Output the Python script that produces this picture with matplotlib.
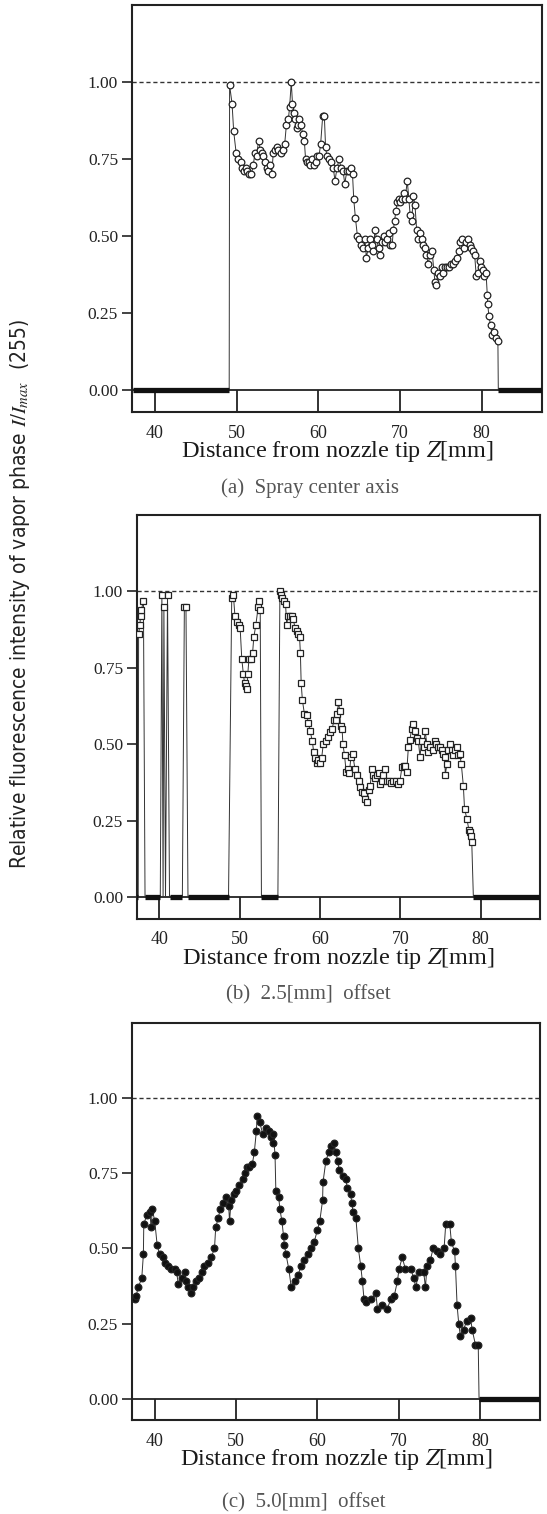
import matplotlib
matplotlib.use('Agg')
import matplotlib.pyplot as plt
import numpy as np

plt.rcParams['font.family'] = ['Liberation Serif', 'DejaVu Serif']
plt.rcParams['mathtext.fontset'] = 'stix'

# ---- data (Z in mm, relative intensity) ----
# (a) spray center axis
A_Z = [37.3, 49.10, 49.15, 49.45, 49.65, 49.95, 50.20, 50.50, 50.70, 50.90, 51.10, 51.30, 51.55,
       51.80, 52.05, 52.25, 52.45, 52.70, 52.90, 53.10, 53.30, 53.50, 53.70, 53.85, 54.05,
       54.30, 54.50, 54.70, 54.90, 55.10, 55.40, 55.65, 55.90, 56.10, 56.35, 56.50, 56.70,
       56.85, 57.00, 57.20, 57.40, 57.55, 57.70, 57.90, 58.10, 58.30, 58.45, 58.65, 58.85,
       59.05, 59.30, 59.50, 59.70, 59.90, 60.10, 60.30, 60.55, 60.75, 60.90, 61.05, 61.30,
       61.60, 61.85, 62.05, 62.30, 62.55, 62.80, 63.05, 63.25, 63.50, 63.75, 64.00, 64.20,
       64.35, 64.55, 64.80, 65.00, 65.20, 65.45, 65.70, 65.90, 66.10, 66.30, 66.55, 66.75,
       66.95, 67.15, 67.40, 67.60, 67.80, 68.00, 68.20, 68.45, 68.65, 68.85, 69.05, 69.20,
       69.35, 69.50, 69.65, 69.85, 70.05, 70.25, 70.45, 70.65, 70.90, 71.10, 71.25, 71.45,
       71.65, 71.85, 72.05, 72.25, 72.45, 72.65, 72.85, 73.05, 73.25, 73.45, 73.70, 73.95,
       74.15, 74.30, 74.45, 74.65, 74.90, 75.10, 75.30, 75.55, 75.80, 76.05, 76.30, 76.55,
       76.80, 77.05, 77.25, 77.40, 77.60, 77.85, 78.05, 78.30, 78.55, 78.75, 78.95, 79.15,
       79.35, 79.55, 79.75, 79.95, 80.15, 80.35, 80.55, 80.70, 80.75, 80.90, 81.10, 81.30,
       81.55, 81.80, 82.00, 82.05, 87.5]
A_V = [0.0, 0.0, 0.99, 0.93, 0.84, 0.77, 0.75, 0.74, 0.72, 0.71, 0.72, 0.71, 0.70,
       0.70, 0.73, 0.77, 0.76, 0.81, 0.78, 0.77, 0.76, 0.74, 0.72, 0.71, 0.73,
       0.70, 0.77, 0.78, 0.79, 0.78, 0.77, 0.78, 0.80, 0.86, 0.88, 0.92, 1.00,
       0.93, 0.90, 0.88, 0.85, 0.86, 0.88, 0.86, 0.83, 0.81, 0.75, 0.74, 0.74,
       0.73, 0.75, 0.73, 0.74, 0.76, 0.76, 0.80, 0.89, 0.89, 0.79, 0.76, 0.75,
       0.74, 0.72, 0.68, 0.72, 0.75, 0.72, 0.71, 0.67, 0.71, 0.71, 0.72, 0.70,
       0.62, 0.56, 0.50, 0.49, 0.47, 0.46, 0.49, 0.43, 0.46, 0.49, 0.47, 0.45,
       0.52, 0.49, 0.46, 0.44, 0.48, 0.50, 0.48, 0.49, 0.51, 0.47, 0.47, 0.52,
       0.55, 0.58, 0.61, 0.62, 0.61, 0.62, 0.64, 0.62, 0.68, 0.62, 0.57, 0.55,
       0.63, 0.60, 0.52, 0.49, 0.51, 0.49, 0.47, 0.46, 0.44, 0.41, 0.44, 0.45,
       0.39, 0.35, 0.34, 0.38, 0.37, 0.40, 0.38, 0.40, 0.40, 0.40, 0.41, 0.41,
       0.42, 0.43, 0.45, 0.48, 0.49, 0.46, 0.48, 0.49, 0.47, 0.46, 0.45, 0.44,
       0.37, 0.38, 0.42, 0.40, 0.39, 0.37, 0.38, 0.31, 0.28, 0.24, 0.21, 0.18,
       0.19, 0.17, 0.16, 0.0, 0.0]

# (b) 2.5 mm offset
B_Z = [37.05, 37.35, 37.40, 37.55, 37.65, 37.75, 38.00, 38.20,
       40.10, 40.30, 40.45, 40.55, 40.75, 41.00, 41.25,
       42.85, 43.10, 43.30, 43.55,
       48.60, 49.00, 49.20, 49.40, 49.60, 49.85, 50.05, 50.25, 50.45, 50.60, 50.75, 50.90,
       51.00, 51.15, 51.40, 51.60, 51.75, 52.00, 52.30, 52.45, 52.55, 52.70,
       54.75, 55.00, 55.15, 55.30, 55.50, 55.70, 55.85, 56.00, 56.20, 56.45, 56.65, 56.90,
       57.10, 57.30, 57.45, 57.55, 57.65, 57.80, 58.05, 58.35, 58.55, 58.75, 59.05, 59.20,
       59.40, 59.60, 59.80, 60.05, 60.20, 60.40, 60.75, 61.05, 61.30, 61.50, 61.75, 61.95,
       62.15, 62.30, 62.45, 62.55, 62.75, 62.85, 63.05, 63.25, 63.45, 63.65, 63.85, 64.05,
       64.35, 64.55, 64.80, 65.00, 65.20, 65.45, 65.65, 65.85, 66.05, 66.25, 66.45, 66.65,
       66.85, 67.05, 67.30, 67.50, 67.70, 67.90, 68.10, 68.30, 68.55, 68.90, 69.15, 69.45,
       69.75, 69.95, 70.20, 70.40, 70.60, 70.80, 71.00, 71.20, 71.40, 71.60, 71.85, 72.05,
       72.25, 72.45, 72.65, 72.90, 73.10, 73.30, 73.50, 73.75, 74.10, 74.30, 74.50, 74.70,
       74.95, 75.15, 75.35, 75.55, 75.60, 75.80, 76.00, 76.20, 76.40, 76.60, 76.80, 77.00,
       77.20, 77.40, 77.60, 77.85, 78.00, 78.30, 78.55, 78.70, 78.80, 78.90, 79.10, 87.5]
B_V = [0.0, 0.0, 0.86, 0.89, 0.92, 0.94, 0.97, 0.0,
       0.0, 0.99, 0.0, 0.95, 0.0, 0.99, 0.0,
       0.0, 0.95, 0.95, 0.0,
       0.0, 0.98, 0.99, 0.92, 0.90, 0.89, 0.88, 0.78, 0.73, 0.70, 0.69, 0.68,
       0.73, 0.78, 0.78, 0.80, 0.85, 0.89, 0.95, 0.97, 0.94, 0.0,
       0.0, 1.00, 0.99, 0.98, 0.97, 0.96, 0.89, 0.92, 0.92, 0.92, 0.91, 0.88,
       0.87, 0.86, 0.85, 0.80, 0.70, 0.645, 0.60, 0.595, 0.57, 0.545, 0.51, 0.475,
       0.455, 0.44, 0.45, 0.44, 0.455, 0.50, 0.51, 0.525, 0.54, 0.55, 0.58, 0.58,
       0.60, 0.64, 0.61, 0.56, 0.55, 0.50, 0.465, 0.41, 0.42, 0.405, 0.46, 0.47,
       0.42, 0.40, 0.38, 0.36, 0.345, 0.34, 0.32, 0.31, 0.35, 0.365, 0.42, 0.40,
       0.39, 0.40, 0.405, 0.37, 0.38, 0.40, 0.42, 0.38, 0.38, 0.375, 0.38, 0.38,
       0.37, 0.38, 0.425, 0.43, 0.43, 0.41, 0.49, 0.515, 0.55, 0.565, 0.545, 0.52,
       0.51, 0.46, 0.51, 0.49, 0.545, 0.50, 0.475, 0.49, 0.48, 0.51, 0.50, 0.49,
       0.49, 0.48, 0.47, 0.46, 0.40, 0.435, 0.48, 0.50, 0.48, 0.465, 0.48, 0.49,
       0.465, 0.47, 0.435, 0.365, 0.29, 0.255, 0.22, 0.215, 0.20, 0.18, 0.0, 0.0]

# (c) 5.0 mm offset
C_Z = [37.55, 37.70, 37.95, 38.40, 38.60, 38.65, 39.00, 39.40, 39.55, 39.70, 40.00, 40.30,
       40.60, 41.00, 41.20, 41.60, 42.05, 42.45, 42.70, 42.90, 43.30, 43.70, 43.90, 44.10,
       44.50, 44.70, 45.10, 45.50, 45.85, 46.10, 46.50, 46.95, 47.35, 47.50, 47.80, 48.05,
       48.40, 48.80, 49.10, 49.20, 49.40, 49.70, 50.00, 50.40, 50.85, 51.05, 51.30, 51.65,
       52.00, 52.25, 52.50, 52.60, 52.90, 53.30, 53.70, 54.00, 54.30, 54.50, 54.60, 54.80,
       54.90, 55.25, 55.40, 55.65, 55.85, 55.95, 56.15, 56.50, 56.80, 57.20, 57.60, 58.00,
       58.40, 58.80, 59.20, 59.60, 60.00, 60.30, 60.65, 60.70, 61.05, 61.40, 61.70, 62.00,
       62.30, 62.50, 62.70, 63.10, 63.50, 63.70, 64.10, 64.25, 64.40, 64.75, 65.05, 65.35,
       65.55, 65.75, 66.05, 66.60, 67.20, 67.40, 68.00, 68.60, 69.05, 69.45, 69.85, 70.05,
       70.45, 70.85, 71.50, 71.90, 72.10, 72.50, 73.10, 73.30, 73.50, 73.90, 74.25, 74.75,
       75.15, 75.60, 75.80, 76.30, 76.50, 76.90, 77.00, 77.20, 77.40, 77.60, 78.00, 78.40,
       78.85, 79.05, 79.45, 79.80, 79.90, 87.5]
C_V = [0.33, 0.34, 0.37, 0.40, 0.48, 0.58, 0.61, 0.62, 0.57, 0.63, 0.59, 0.51,
       0.48, 0.47, 0.45, 0.44, 0.43, 0.43, 0.42, 0.38, 0.40, 0.42, 0.39, 0.37,
       0.35, 0.37, 0.39, 0.40, 0.42, 0.44, 0.45, 0.47, 0.50, 0.57, 0.60, 0.63,
       0.65, 0.67, 0.64, 0.59, 0.66, 0.68, 0.69, 0.71, 0.73, 0.75, 0.77, 0.77,
       0.78, 0.82, 0.89, 0.94, 0.92, 0.88, 0.90, 0.89, 0.87, 0.85, 0.88, 0.81,
       0.69, 0.67, 0.63, 0.59, 0.54, 0.51, 0.48, 0.43, 0.37, 0.39, 0.41, 0.44,
       0.46, 0.48, 0.50, 0.52, 0.56, 0.59, 0.66, 0.72, 0.79, 0.82, 0.84, 0.85,
       0.82, 0.79, 0.76, 0.74, 0.73, 0.70, 0.68, 0.65, 0.62, 0.60, 0.50, 0.44,
       0.39, 0.33, 0.32, 0.33, 0.35, 0.30, 0.31, 0.30, 0.33, 0.34, 0.39, 0.43,
       0.47, 0.43, 0.43, 0.40, 0.37, 0.42, 0.42, 0.37, 0.44, 0.46, 0.50, 0.49,
       0.48, 0.50, 0.58, 0.58, 0.52, 0.49, 0.44, 0.31, 0.25, 0.21, 0.23, 0.26,
       0.27, 0.23, 0.18, 0.18, 0.0, 0.0]

X_TICKS = [40, 50, 60, 70, 80]
Y_TICKS = [0.0, 0.25, 0.50, 0.75, 1.00]
Y_TICKLABELS = ['0.00', '0.25', '0.50', '0.75', '1.00']
XLABEL = 'Distance from nozzle tip $Z$[mm]'
CAPTIONS = ['(a)  Spray center axis', '(b)  2.5[mm]  offset', '(c)  5.0[mm]  offset']
YLABEL = 'Relative fluorescence intensity of vapor phase $I/I_{max}$  (255)'

W, H = 547, 1514
XMIN, XMAX = 37.2, 87.4
YMIN, YMAX = -0.071, 1.25

fig = plt.figure(figsize=(W / 100, H / 100), dpi=100)

# pixel boxes (left, top, right, bottom) and caption rows
boxes = [(132, 5, 542, 412), (137, 515, 540, 919), (132, 1023, 540, 1420)]
cap_y = [488, 995, 1503]
cap_x = [310, 308, 304]
series = [(A_Z, A_V, 'o', 'white'), (B_Z, B_V, 's', 'white'), (C_Z, C_V, 'o', '#111111')]

for (l, t, r, b), (z, v, mk, fc), cy, cx, cap in zip(boxes, series, cap_y, cap_x, CAPTIONS):
    ax = fig.add_axes([l / W, 1 - b / H, (r - l) / W, (b - t) / H])
    z = np.array(z)
    v = np.array(v)
    ax.plot(z, v, color='#333333', lw=0.7, zorder=2)
    nz = v > 0
    ax.plot(z[nz], v[nz], ls='none', marker=mk, ms=4.8, mfc=fc, mec='#222222',
            mew=0.9, zorder=3)
    # dense zero-level samples show up as a solid black band
    for i in range(len(z) - 1):
        if v[i] == 0 and v[i + 1] == 0:
            ax.plot([z[i], z[i + 1]], [0, 0], color='#111111', lw=3.8,
                    solid_capstyle='butt', zorder=4)
    ax.axhline(1.0, ls=(0, (3, 2)), color='#333333', lw=1.0, zorder=1)
    ax.axhline(0.0, color='#222222', lw=1.3, zorder=1)
    ax.set_xlim(XMIN, XMAX)
    ax.set_ylim(YMIN, YMAX)
    ax.set_xticks(X_TICKS)
    ax.set_yticks(Y_TICKS)
    ax.set_yticklabels(Y_TICKLABELS)
    strip_pts = (b - t) * (0 - YMIN) / (YMAX - YMIN) * 72 / 100
    ax.tick_params(axis='x', direction='in', length=strip_pts, width=1.3, pad=9,
                   labelsize=13, colors='#222222')
    ax.tick_params(axis='y', direction='out', length=7, width=1.2, pad=3,
                   labelsize=12.5, colors='#222222')
    for sp in ax.spines.values():
        sp.set_linewidth(1.5)
        sp.set_color('#222222')
    ax.set_xlabel(XLABEL, fontsize=17.5, labelpad=-2, color='#1a1a1a')
    fig.text(cx / W, 1 - cy / H, cap, ha='center', va='center', fontsize=15,
             color='#555555')

fig.text(20 / W, 1 - 594 / H, YLABEL, rotation=90, ha='center', va='center',
         fontsize=15, family=['DejaVu Sans'], fontstretch='condensed', color='#222222')

plt.savefig('out.png', dpi=100)
plt.close()
